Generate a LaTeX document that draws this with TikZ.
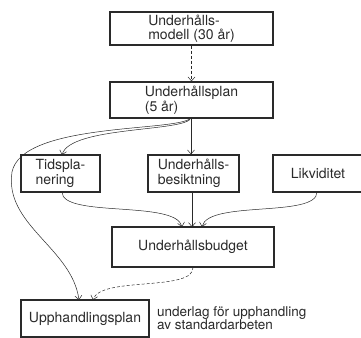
\documentclass[tikz,border=0pt]{standalone}
\usepackage{fontspec}
\setmainfont{TeX Gyre Heros}
\usetikzlibrary{arrows.meta}
\definecolor{ink}{HTML}{2A2A2A}
\tikzset{
  box/.style={draw=ink, line width=1.3pt, rectangle, inner sep=0pt,
    align=left, text=ink, font=\fontsize{14}{14.5}\selectfont},
  link/.style={draw=ink, line width=0.5pt,
    -{Straight Barb[length=4pt,width=7pt]}},
  dlink/.style={link, dashed, dash pattern=on 3pt off 2pt}
}
\begin{document}
\begin{tikzpicture}[x=1pt, y=-1pt]
\useasboundingbox (0,0) rectangle (361,337);
\fill[white] (0,0) rectangle (361,337);

% boxes
\node[box, minimum width=163pt, minimum height=33pt] (m) at (191.5,28.5)
  {Underhålls-\\modell (30 år)};
\node[box, minimum width=163pt, minimum height=36pt] (p) at (191.5,100)
  {Underhållsplan\\(5 år)};
\node[box, minimum width=79pt, minimum height=37pt] (t) at (60.5,173.5)
  {Tidspla-\\nering};
\node[box, minimum width=91pt, minimum height=37pt] (b) at (193.5,173.5)
  {Underhålls-\\besiktning};
\node[box, minimum width=90pt, minimum height=37pt] (l) at (318,173.5)
  {Likviditet};
\node[box, minimum width=162pt, minimum height=40pt] (u) at (193,247)
  {Underhållsbudget};
\node[box, minimum width=128pt, minimum height=37pt] (h) at (85,318.5)
  {Upphandlingsplan};
\node[anchor=west, align=left, inner sep=0pt, text=ink,
  font=\fontsize{13.5}{13}\selectfont] (note) at (157,318)
  {underlag för upphandling\\av standardarbeten};

% named end points
\coordinate (ps) at (191,118);
\coordinate (tin) at (62,155);
\coordinate (hin) at (79,300);
\coordinate (hdash) at (93,300);
\coordinate (uin1) at (182,227);
\coordinate (uin2) at (192,227);
\coordinate (uin3) at (202,227);
\coordinate (tout) at (62,192);
\coordinate (lout) at (317,192);
\coordinate (uout) at (193,267);

% connectors
\draw[dlink] (m.south) -- (p.north);
\draw[link] (ps) -- (ps |- b.north);
\draw[link] (ps) .. controls (186,132) and (70,126) .. (tin);
\draw[link] (ps) .. controls (178,132) and (22,122) .. (12,172)
  .. controls (4,225) and (72,248) .. (hin);
\draw[link] (tout) .. controls (62,218) and (176,200) .. (uin1);
\draw[link] (b.south -| uin2) -- (uin2);
\draw[link] (lout) .. controls (317,218) and (208,200) .. (uin3);
\draw[dlink] (uout) .. controls (195,292) and (100,276) .. (hdash);
\end{tikzpicture}
\end{document}
